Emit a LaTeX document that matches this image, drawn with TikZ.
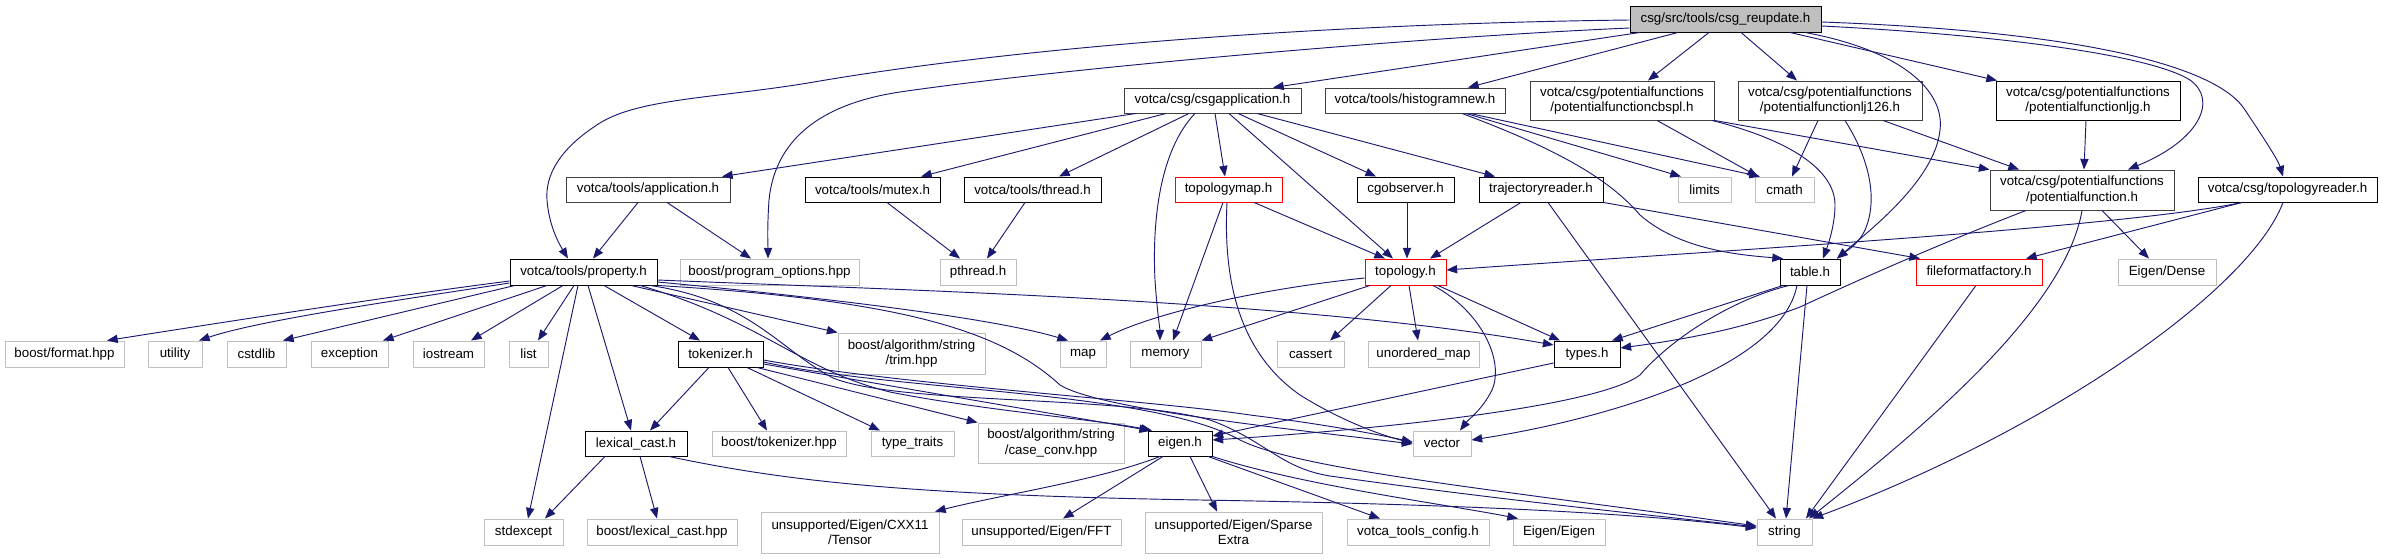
\documentclass[tikz,border=0pt]{standalone}
\usepackage{fontspec}
\setmainfont{Liberation Sans}
\usetikzlibrary{arrows.meta}
\definecolor{edgec}{HTML}{191970}
\definecolor{gseven}{HTML}{BFBFBF}
\definecolor{gtwo}{HTML}{404040}
\newcommand{\bx}[7]{\node[#6, minimum width={(#4-(#2))*0.75pt}, minimum height={(#5-(#3))*0.75pt}] (#1) at ({(#2+#4)/2},{(#3+#5)/2}) {#7};}
\begin{document}
\begin{tikzpicture}[x=0.75pt,y=-0.75pt,
  base/.style={draw, rectangle, inner sep=0pt, align=center, font=\fontsize{10}{11.5}\selectfont, line width=0.7pt},
  doc/.style={base, draw=black},
  dk/.style={base, draw=gtwo},
  sys/.style={base, draw=gseven},
  trunc/.style={base, draw=red},
  root/.style={base, draw=black, fill=gseven},
  conn/.style={draw=edgec, line width=0.7pt, -{Triangle[length=8pt,width=6.2pt]}}]
\useasboundingbox (0,0) rectangle (2382,559);
% nodes
\bx{T}{1630}{6}{1821}{32}{root}{csg/src/tools/csg\_reupdate.h}
\bx{csgapp}{1124}{88}{1301}{113}{dk}{votca/csg/csgapplication.h}
\bx{hist}{1325}{88}{1505}{113}{dk}{votca/tools/histogramnew.h}
\bx{cbspl}{1530}{81}{1714}{120}{dk}{votca/csg/potentialfunctions\\/potentialfunctioncbspl.h}
\bx{lj126}{1738}{81}{1922}{120}{dk}{votca/csg/potentialfunctions\\/potentialfunctionlj126.h}
\bx{ljg}{1996}{81}{2180}{120}{doc}{votca/csg/potentialfunctions\\/potentialfunctionljg.h}
\bx{app}{566}{177}{730}{202}{dk}{votca/tools/application.h}
\bx{mutex}{805}{177}{940}{202}{doc}{votca/tools/mutex.h}
\bx{thread}{964}{177}{1101}{202}{doc}{votca/tools/thread.h}
\bx{tmap}{1175}{177}{1282}{202}{trunc}{topologymap.h}
\bx{cgobs}{1357}{177}{1454}{202}{doc}{cgobserver.h}
\bx{traj}{1479}{177}{1603}{202}{doc}{trajectoryreader.h}
\bx{limits}{1678}{177}{1731}{202}{sys}{limits}
\bx{cmath}{1755}{177}{1814}{202}{sys}{cmath}
\bx{pf}{1990}{170}{2174}{210}{dk}{votca/csg/potentialfunctions\\/potentialfunction.h}
\bx{treader}{2198}{177}{2377}{202}{doc}{votca/csg/topologyreader.h}
\bx{prop}{510}{259}{657}{285}{doc}{votca/tools/property.h}
\bx{progopt}{680}{259}{859}{285}{sys}{boost/program\_options.hpp}
\bx{pthread}{940}{259}{1016}{285}{sys}{pthread.h}
\bx{topo}{1365}{259}{1446}{285}{trunc}{topology.h}
\bx{table}{1780}{259}{1840}{285}{doc}{table.h}
\bx{ffac}{1916}{259}{2042}{285}{trunc}{fileformatfactory.h}
\bx{edense}{2118}{259}{2216}{285}{sys}{Eigen/Dense}
\bx{bformat}{5}{341}{124}{367}{sys}{boost/format.hpp}
\bx{utility}{148}{341}{202}{367}{sys}{utility}
\bx{cstdlib}{227}{341}{286}{367}{sys}{cstdlib}
\bx{exception}{311}{341}{388}{367}{sys}{exception}
\bx{iostream}{413}{341}{484}{367}{sys}{iostream}
\bx{list}{509}{341}{548}{367}{sys}{list}
\bx{tok}{678}{341}{763}{367}{doc}{tokenizer.h}
\bx{trim}{838}{333}{985}{374}{sys}{boost/algorithm/string\\/trim.hpp}
\bx{map}{1060}{341}{1106}{367}{sys}{map}
\bx{memory}{1130}{341}{1201}{367}{sys}{memory}
\bx{cassert}{1277}{341}{1344}{367}{sys}{cassert}
\bx{umap}{1368}{341}{1479}{367}{sys}{unordered\_map}
\bx{types}{1554}{341}{1620}{367}{doc}{types.h}
\bx{lexcast}{585}{431}{687}{456}{doc}{lexical\_cast.h}
\bx{btok}{712}{431}{846}{456}{sys}{boost/tokenizer.hpp}
\bx{ttraits}{871}{431}{954}{456}{sys}{type\_traits}
\bx{caseconv}{978}{423}{1124}{463}{sys}{boost/algorithm/string\\/case\_conv.hpp}
\bx{eigen}{1148}{431}{1212}{456}{doc}{eigen.h}
\bx{vector}{1413}{431}{1471}{456}{sys}{vector}
\bx{stdexcept}{484}{519}{563}{545}{sys}{stdexcept}
\bx{blexcast}{587}{519}{737}{545}{sys}{boost/lexical\_cast.hpp}
\bx{tensor}{761}{512}{939}{553}{sys}{unsupported/Eigen/CXX11\\/Tensor}
\bx{fft}{962}{519}{1121}{545}{sys}{unsupported/Eigen/FFT}
\bx{sparse}{1145}{512}{1322}{553}{sys}{unsupported/Eigen/Sparse\\Extra}
\bx{vtconfig}{1347}{519}{1489}{545}{sys}{votca\_tools\_config.h}
\bx{eeigen}{1513}{519}{1605}{545}{sys}{Eigen/Eigen}
\bx{string}{1757}{519}{1812}{545}{sys}{string}
% edges from root
\draw[conn] (T.west |- 0,20) .. controls (1300,24) and (1000,50) .. (814,82) .. controls (720,98) and (640,98) .. (600,123) .. controls (560,148) and (545,175) .. (547,200) .. controls (549,225) and (558,242) .. (prop.north -| 568,0);
\draw[conn] (T.west |- 0,28) .. controls (1400,38) and (1050,70) .. (900,92) .. controls (820,104) and (775,140) .. (769,200) .. controls (767,230) and (768,245) .. (progopt.north -| 768,0);
\draw[conn] (T.south -| 1640,0) -- (csgapp.north -| 1273,0);
\draw[conn] (T.south -| 1678,0) -- (hist.north -| 1468,0);
\draw[conn] (T.south -| 1709,0) -- (cbspl.north -| 1648,0);
\draw[conn] (T.south -| 1741,0) -- (lj126.north -| 1797,0);
\draw[conn] (T.south -| 1790,0) -- (ljg.north -| 1997,0);
\draw[conn] (T.south -| 1805,0) .. controls (1900,50) and (1945,90) .. (1940,130) .. controls (1935,180) and (1870,230) .. (table.north -| 1837,0);
\draw[conn] (T.east |- 0,26) .. controls (2000,35) and (2150,55) .. (2190,80) .. controls (2218,100) and (2200,140) .. (pf.north -| 2128,0);
\draw[conn] (T.east |- 0,22) .. controls (2100,32) and (2220,70) .. (2245,110) .. controls (2265,140) and (2278,160) .. (treader.north -| 2283,0);
% csgapplication
\draw[conn] (csgapp.south -| 1136,0) -- (app.north -| 722,0);
\draw[conn] (csgapp.south -| 1166,0) -- (mutex.north -| 921,0);
\draw[conn] (csgapp.south -| 1189,0) -- (thread.north -| 1059,0);
\draw[conn] (csgapp.south -| 1195,0) .. controls (1160,150) and (1152,220) .. (1155,280) .. controls (1157,310) and (1160,330) .. (memory.north -| 1160,0);
\draw[conn] (csgapp.south -| 1215,0) -- (tmap.north -| 1225,0);
\draw[conn] (csgapp.south -| 1229,0) -- (topo.north -| 1393,0);
\draw[conn] (csgapp.south -| 1238,0) -- (cgobs.north -| 1376,0);
\draw[conn] (csgapp.south -| 1257,0) -- (traj.north -| 1495,0);
% histogramnew
\draw[conn] (hist.south -| 1466,0) -- (limits.north -| 1681,0);
\draw[conn] (hist.south -| 1470,0) -- (cmath.north -| 1760,0);
\draw[conn] (hist.south -| 1462,0) .. controls (1560,150) and (1610,180) .. (1640,215) .. controls (1680,250) and (1740,255) .. (table.north -| 1783,0);
% potential functions
\draw[conn] (cbspl.south -| 1657,0) -- (cmath.north -| 1758,0);
\draw[conn] (cbspl.south -| 1712,0) .. controls (1790,140) and (1835,170) .. (1835,205) .. controls (1835,225) and (1828,245) .. (table.north -| 1823,0);
\draw[conn] (cbspl.south east) -- (pf.north west);
\draw[conn] (lj126.south -| 1818,0) -- (cmath.north -| 1792,0);
\draw[conn] (lj126.south -| 1845,0) .. controls (1870,160) and (1878,200) .. (1865,230) .. controls (1858,245) and (1845,252) .. (table.north -| 1837,0);
\draw[conn] (lj126.south -| 1883,0) -- (pf.north -| 2019,0);
\draw[conn] (ljg.south -| 2086,0) -- (pf.north -| 2084,0);
% application, mutex, thread
\draw[conn] (app.south -| 638,0) -- (prop.north -| 593,0);
\draw[conn] (app.south -| 667,0) -- (progopt.north -| 751,0);
\draw[conn] (mutex.south -| 887,0) -- (pthread.north -| 960,0);
\draw[conn] (thread.south -| 1025,0) -- (pthread.north -| 987,0);
% topologymap, cgobserver, trajectoryreader
\draw[conn] (tmap.south -| 1254,0) -- (topo.north -| 1385,0);
\draw[conn] (tmap.south -| 1223,0) -- (memory.north -| 1173,0);
\draw[conn] (tmap.south -| 1227,0) .. controls (1222,300) and (1250,360) .. (1300,395) .. controls (1340,420) and (1380,435) .. (vector.west |- 0,443);
\draw[conn] (cgobs.south -| 1407,0) -- (topo.north -| 1407,0);
\draw[conn] (traj.south -| 1521,0) -- (topo.north -| 1430,0);
\draw[conn] (traj.south -| 1548,0) -- (string.north -| 1776,0);
\draw[conn] (traj.south east) -- (ffac.north -| 1920,0);
% potentialfunction.h
\draw[conn] (pf.south -| 2026,0) .. controls (1950,240) and (1880,270) .. (1800,307) .. controls (1740,330) and (1680,340) .. (types.east |- 0,348);
\draw[conn] (pf.south -| 2082,0) .. controls (2065,310) and (1920,430) .. (string.north -| 1809,0);
\draw[conn] (pf.south -| 2102,0) -- (edense.north -| 2149,0);
% topologyreader
\draw[conn] (treader.south -| 2242,0) .. controls (2120,228) and (1700,252) .. (topo.east |- 0,270);
\draw[conn] (treader.south -| 2242,0) -- (ffac.north -| 2026,0);
\draw[conn] (treader.south -| 2283,0) .. controls (2250,290) and (2050,430) .. (string.north east);
% topology.h
\draw[conn] (topo.west |- 0,278) .. controls (1250,290) and (1150,315) .. (map.north -| 1100,0);
\draw[conn] (topo.south -| 1370,0) -- (memory.north east);
\draw[conn] (topo.south -| 1391,0) -- (cassert.north -| 1330,0);
\draw[conn] (topo.south -| 1409,0) -- (umap.north -| 1418,0);
\draw[conn] (topo.south -| 1433,0) .. controls (1480,310) and (1505,360) .. (1492,390) .. controls (1482,410) and (1468,420) .. (vector.north -| 1460,0);
\draw[conn] (topo.south -| 1438,0) -- (types.north -| 1560,0);
% table.h
\draw[conn] (table.south -| 1783,0) -- (types.north -| 1612,0);
\draw[conn] (table.south -| 1789,0) .. controls (1730,300) and (1670,340) .. (1640,375) .. controls (1600,405) and (1400,428) .. (eigen.east |- 0,440);
\draw[conn] (table.south -| 1797,0) .. controls (1780,370) and (1600,420) .. (vector.east |- 0,440);
\draw[conn] (table.south -| 1807,0) -- (string.north -| 1786,0);
\draw[conn] (types.west |- 0,363) -- (eigen.east |- 0,436);
\draw[conn] (ffac.south -| 1976,0) -- (string.north -| 1806,0);
% property.h
\draw[conn] (prop.west |- 0,281) .. controls (400,295) and (250,318) .. (bformat.north -| 107,0);
\draw[conn] (prop.west |- 0,283) .. controls (400,300) and (260,320) .. (utility.north -| 199,0);
\draw[conn] (prop.south -| 515,0) -- (cstdlib.north -| 283,0);
\draw[conn] (prop.south -| 547,0) -- (exception.north -| 383,0);
\draw[conn] (prop.south -| 563,0) -- (iostream.north -| 471,0);
\draw[conn] (prop.south -| 574,0) -- (list.north -| 538,0);
\draw[conn] (prop.south -| 578,0) -- (stdexcept.north -| 528,0);
\draw[conn] (prop.south -| 588,0) -- (lexcast.north -| 631,0);
\draw[conn] (prop.south -| 604,0) -- (tok.north -| 700,0);
\draw[conn] (prop.south -| 631,0) -- (trim.north west);
\draw[conn] (prop.east |- 0,282) .. controls (850,300) and (1000,320) .. (map.north -| 1068,0);
\draw[conn] (prop.east |- 0,280) .. controls (900,290) and (1300,300) .. (types.west |- 0,345);
\draw[conn] (prop.south -| 640,0) .. controls (760,320) and (800,370) .. (890,392) .. controls (980,410) and (1100,420) .. (eigen.north -| 1152,0);
\draw[conn] (prop.south east) .. controls (900,300) and (1000,330) .. (1060,385) .. controls (1100,410) and (1300,430) .. (vector.west |- 0,444);
\draw[conn] (prop.south -| 650,0) .. controls (750,300) and (780,350) .. (833,378) .. controls (900,405) and (1120,395) .. (1210,420) .. controls (1265,440) and (1280,468) .. (1330,476) .. controls (1500,500) and (1650,515) .. (string.west |- 0,527);
% tokenizer.h
\draw[conn] (tok.south -| 709,0) -- (lexcast.north -| 650,0);
\draw[conn] (tok.south -| 728,0) -- (btok.north -| 767,0);
\draw[conn] (tok.south -| 747,0) -- (ttraits.north -| 880,0);
\draw[conn] (tok.south -| 757,0) -- (caseconv.north west);
\draw[conn] (tok.east |- 0,364) -- (eigen.north -| 1150,0);
\draw[conn] (tok.east |- 0,360) .. controls (900,385) and (1150,400) .. (1250,415) .. controls (1330,425) and (1380,435) .. (vector.west |- 0,442);
\draw[conn] (tok.east |- 0,362) .. controls (900,392) and (1150,390) .. (1240,440) .. controls (1300,470) and (1500,490) .. (string.west |- 0,526);
% lexical_cast.h
\draw[conn] (lexcast.south -| 605,0) -- (stdexcept.north -| 545,0);
\draw[conn] (lexcast.south -| 640,0) -- (blexcast.north -| 657,0);
\draw[conn] (lexcast.south -| 669,0) .. controls (780,480) and (900,495) .. (1200,500) .. controls (1500,505) and (1650,515) .. (string.west |- 0,528);
% eigen.h
\draw[conn] (eigen.south -| 1160,0) .. controls (1100,480) and (1000,495) .. (tensor.north -| 935,0);
\draw[conn] (eigen.south -| 1163,0) -- (fft.north -| 1063,0);
\draw[conn] (eigen.south -| 1190,0) -- (sparse.north -| 1217,0);
\draw[conn] (eigen.south -| 1208,0) -- (vtconfig.north -| 1380,0);
\draw[conn] (eigen.south east) .. controls (1300,485) and (1450,505) .. (eeigen.north -| 1518,0);
\end{tikzpicture}
\end{document}
